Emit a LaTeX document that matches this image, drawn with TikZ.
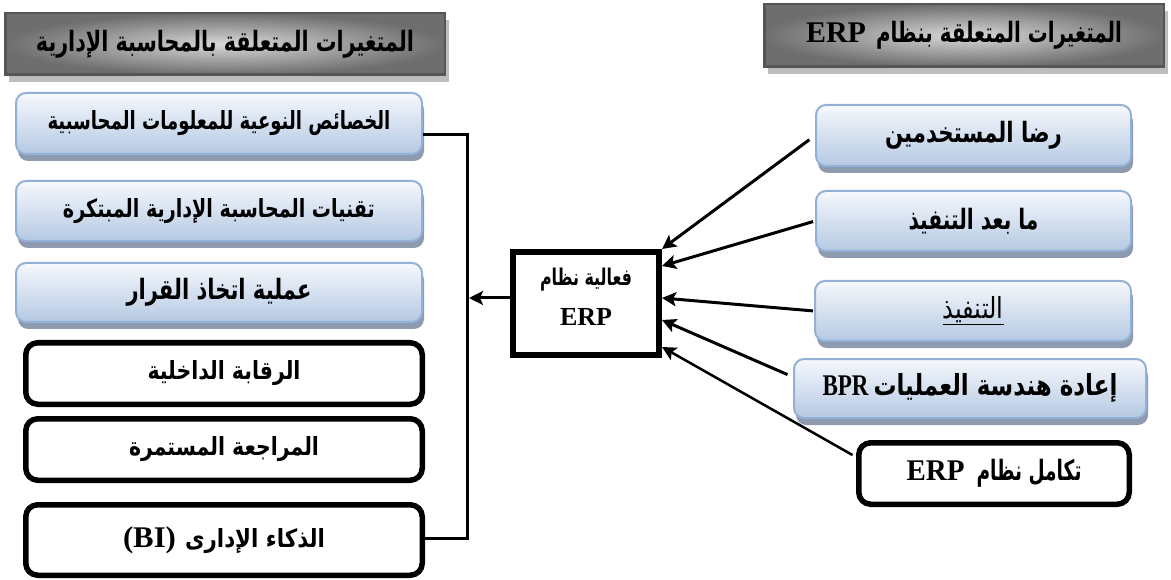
\documentclass[tikz,border=0pt]{standalone}
\usepackage{fontspec}
\usepackage{graphicx}
\usetikzlibrary{arrows.meta,shadows,calc}
\setmainfont{Liberation Serif}
\newfontfamily\arabicfont[Script=Arabic]{DejaVu Sans}
\newfontfamily\latinfont{Liberation Serif}
\TeXXeTstate=1

\definecolor{bluetop}{HTML}{F6F8FC}
\definecolor{bluebot}{HTML}{B5C9E3}
\definecolor{blueline}{HTML}{93B1D6}
\definecolor{blueshade}{HTML}{8E9BAF}
\definecolor{headin}{HTML}{D8D8D8}
\definecolor{headout}{HTML}{6E6E6E}
\definecolor{headline}{HTML}{555555}
\definecolor{headshade}{HTML}{BDBDBD}

% set #3 at size #2 and squeeze it horizontally to #1 pt
\newlength\fitlen
\newcommand\fitto[3]{{%
  \fontsize{#2}{#2}\selectfont
  \settowidth\fitlen{#3}%
  \pgfmathsetmacro\fitx{#1/\fitlen}%
  \scalebox{\fitx}[1]{#3}}}
% bold Arabic
\newcommand\fitb[3]{{\arabicfont\bfseries\fitto{#1}{#2}{#3}}}
% bold Latin
\newcommand\latw[3]{{\latinfont\bfseries\fitto{#1}{#2}{#3}}}
% a line raised by #1, taking no room
\newcommand\lineat[2]{\makebox[0pt]{\raisebox{#1}[0pt][0pt]{#2}}}

\tikzset{
  headbox/.style={draw=headline, line width=2.5pt, inner color=headin, outer color=headout,
    inner sep=0pt, drop shadow={shadow xshift=4pt, shadow yshift=-7pt, fill=headshade, opacity=1}},
  bluebox/.style={draw=blueline, line width=2pt, rounded corners=10pt, top color=bluetop,
    bottom color=bluebot, inner sep=0pt,
    drop shadow={shadow xshift=2pt, shadow yshift=-7pt, fill=blueshade, opacity=1}},
  blackbox/.style={draw=black, line width=5.5pt, rounded corners=12pt, fill=white, inner sep=0pt},
  erpbox/.style={draw=black, line width=6pt, fill=white, inner sep=0pt},
  wire/.style={line width=3pt},
  arr/.style={wire, -{Stealth[length=14pt,width=14pt,inset=3pt]}},
}

\begin{document}
\begin{tikzpicture}[x=1pt,y=-1pt]
\useasboundingbox (0,0) rectangle (1171,580);

% headers
\node[headbox, minimum width=439.5pt, minimum height=61.5pt] (hl) at (225,44)
  {\fitb{378}{28}{\beginR المتغيرات المتعلقة بالمحاسبة الإدارية\endR}};
\node[headbox, minimum width=399.5pt, minimum height=62.5pt] (hr) at (964,35.5)
  {\latw{60}{30}{ERP}\hspace{10pt}\fitb{246}{28}{\beginR المتغيرات المتعلقة بنظام\endR}};

% accounting variables
\node[bluebox, minimum width=406pt, minimum height=61pt] (b1) at (219,123.5)
  {\fitb{343}{25}{\beginR الخصائص النوعية للمعلومات المحاسبية\endR}};
\node[bluebox, minimum width=406pt, minimum height=60pt] (b2) at (219,211)
  {\fitb{312}{25}{\beginR تقنيات المحاسبة الإدارية المبتكرة\endR}};
\node[bluebox, minimum width=406pt, minimum height=59pt] (b3) at (219,292.5)
  {\fitb{185}{28}{\beginR عملية اتخاذ القرار\endR}};
\node[blackbox, minimum width=396.5pt, minimum height=61.5pt] (b4) at (224,373.5)
  {\fitb{153}{25}{\beginR الرقابة الداخلية\endR}};
\node[blackbox, minimum width=396.5pt, minimum height=61.5pt] (b5) at (224,449.5)
  {\fitb{190}{25}{\beginR المراجعة المستمرة\endR}};
\node[blackbox, minimum width=396.5pt, minimum height=70.5pt] (b6) at (224,540)
  {\latw{53}{30}{(BI)}\hspace{9pt}\fitb{140}{25}{\beginR الذكاء الإدارى\endR}};

% ERP variables
\node[bluebox, minimum width=315pt, minimum height=61pt] (r1) at (973.5,135.5)
  {\fitb{177}{28}{\beginR رضا المستخدمين\endR}};
\node[bluebox, minimum width=315pt, minimum height=60pt] (r2) at (973.5,221)
  {\fitb{130}{28}{\beginR ما بعد التنفيذ\endR}};
\node[bluebox, minimum width=316pt, minimum height=60pt] (r3) at (973,311)
  {{\arabicfont\fitto{61}{29}{\underline{\beginR التنفيذ\endR}}}};
\node[bluebox, minimum width=352pt, minimum height=59pt] (r4) at (970,388.5)
  {\latw{46}{30}{BPR}\hspace{5pt}\fitb{244}{29}{\beginR إعادة هندسة العمليات\endR}};
\node[blackbox, minimum width=270.5pt, minimum height=61.5pt] (r5) at (994,473.5)
  {\latw{58}{30}{ERP}\hspace{12pt}\fitb{105}{28}{\beginR تكامل نظام\endR}};

% central box
\node[erpbox, minimum width=146pt, minimum height=103pt] (erp) at (586,303.5)
  {\lineat{17.5pt}{\fitb{92}{23}{\beginR فعالية نظام\endR}}%
   \lineat{-22pt}{\latw{52}{26}{ERP}}};

% bracket gathering the accounting variables
\coordinate (bt) at (467,135);
\coordinate (bb) at (467,538);
\coordinate (outtip) at (469,298);
\draw[wire] ([yshift=-11.5pt]b1.east) -- (bt) -- (bb) -- (b6.east |- bb);
\draw[arr] ([yshift=5.5pt]erp.west) -- (outtip);

% arrows into the central box
\draw[arr, shorten <=7pt] (r1.west) -- (erp.north east);
\draw[arr, shorten <=2pt] (r2.west) -- ([yshift=-17pt]erp.north east);
\draw[arr, shorten <=1pt] (r3.west) -- ([yshift=-49pt]erp.north east);
\draw[arr, shorten <=6pt] ([yshift=11.5pt]r4.west) -- ([yshift=-71pt]erp.north east);
\draw[arr, line width=2.5pt, shorten <=4pt] ([yshift=16.5pt]r5.west) -- ([yshift=-98pt]erp.north east);
\end{tikzpicture}
\end{document}
